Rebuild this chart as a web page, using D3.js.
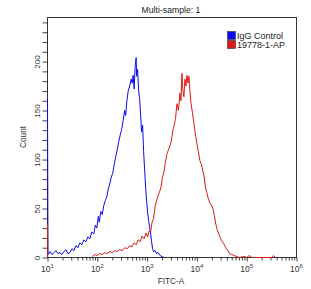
<!DOCTYPE html>
<html>
<head>
<meta charset="utf-8">
<script src="https://cdn.jsdelivr.net/npm/d3@7"></script>
<style>
  body { margin: 0; background: #fff; }
  svg { font-family: "Liberation Sans", Arial, sans-serif; }
  .tick text { fill: #333; }
</style>
</head>
<body>
<svg id="chart" width="311" height="289"></svg>
<script>
// series: [log10(FITC-A), count]
let igg = [
  [1.00, 162], [1.01, 3], [1.05, 6], [1.09, 3], [1.13, 5], [1.17, 7], [1.21, 4], [1.25, 5],
  [1.29, 3], [1.33, 6], [1.37, 8], [1.41, 4], [1.45, 5], [1.49, 9], [1.53, 7], [1.57, 12],
  [1.61, 10], [1.65, 15], [1.69, 13], [1.73, 18], [1.77, 16], [1.81, 21], [1.85, 19], [1.89, 26],
  [1.93, 24], [1.96, 33], [1.99, 30], [2.02, 42], [2.04, 36], [2.07, 47], [2.10, 44], [2.13, 53],
  [2.16, 58], [2.19, 62], [2.22, 70], [2.25, 75], [2.28, 82], [2.31, 86], [2.34, 95], [2.37, 103],
  [2.40, 110], [2.43, 118], [2.46, 125], [2.49, 131], [2.52, 140], [2.55, 150], [2.57, 145], [2.59, 158],
  [2.62, 170], [2.65, 175], [2.68, 182], [2.70, 178], [2.72, 186], [2.74, 172], [2.76, 195], [2.78, 204],
  [2.79, 185], [2.81, 192], [2.83, 170], [2.85, 162], [2.87, 145], [2.89, 128], [2.91, 135], [2.93, 108],
  [2.95, 90], [2.97, 72], [2.99, 58], [3.01, 46], [3.03, 38], [3.05, 31], [3.07, 25], [3.09, 16],
  [3.11, 9], [3.13, 6], [3.16, 7], [3.19, 4], [3.22, 5], [3.26, 2], [3.30, 1], [3.34, 0]
];
let ab = [
  [1.00, 34], [1.005, 0], [1.9, null], [1.90, 1], [1.95, 3], [2.00, 2], [2.05, 4], [2.10, 3],
  [2.15, 5], [2.20, 4], [2.25, 6], [2.30, 5], [2.35, 7], [2.40, 6], [2.45, 8], [2.50, 7],
  [2.55, 10], [2.60, 9], [2.65, 12], [2.70, 11], [2.74, 15], [2.78, 13], [2.82, 18], [2.86, 16],
  [2.90, 22], [2.94, 19], [2.98, 25], [3.01, 21], [3.04, 27], [3.07, 26], [3.10, 36], [3.13, 40],
  [3.16, 52], [3.19, 58], [3.22, 63], [3.25, 67], [3.28, 72], [3.31, 82], [3.34, 88], [3.37, 98],
  [3.40, 106], [3.43, 110], [3.46, 114], [3.49, 120], [3.52, 131], [3.55, 136], [3.57, 142], [3.60, 157],
  [3.63, 150], [3.66, 168], [3.68, 160], [3.70, 188], [3.72, 170], [3.74, 164], [3.76, 182], [3.78, 175],
  [3.80, 186], [3.82, 178], [3.84, 185], [3.86, 170], [3.88, 158], [3.91, 148], [3.94, 137], [3.97, 126],
  [4.00, 116], [4.03, 108], [4.06, 99], [4.09, 95], [4.12, 88], [4.14, 84], [4.17, 72], [4.20, 66],
  [4.23, 60], [4.26, 56], [4.29, 54], [4.32, 50], [4.35, 43], [4.38, 34], [4.41, 28], [4.44, 24],
  [4.47, 20], [4.50, 17], [4.54, 14], [4.58, 10], [4.62, 7], [4.66, 4], [4.70, 3], [4.75, 2],
  [4.80, 1], [4.85, 0], [4.95, 1], [5.00, 0], [5.05, 2], [5.10, 0], [5.50, 0], [5.54, 2], [5.58, 0]
];
let series = [
  {name: "IgG Control", color: "#0a0af0", values: igg},
  {name: "19778-1-AP", color: "#e01818", values: ab}
];
let decades = [1, 2, 3, 4, 5, 6],
  yMajor = [0, 50, 100, 150, 200];

let margins = {left: 47, right: 296, top: 17, bottom: 257};
let svg = d3.select("#chart");

let x = d3.scaleLog().domain([10, 1e6]).range([margins.left + 0.5, margins.right + 0.5]),
  y = d3.scaleLinear().domain([0, 245]).range([margins.bottom + 0.5, margins.top + 0.5]);

// axes
let minor = [];
decades.slice(0, -1).forEach(k => d3.range(2, 10).forEach(m => minor.push(m * Math.pow(10, k))));

let xg = svg.append("g").attr("transform", `translate(0, ${margins.bottom + 0.5})`);
xg.call(d3.axisBottom(x).tickValues(minor).tickSize(3).tickFormat(""));
xg.append("g").call(d3.axisBottom(x).tickValues(decades.map(k => Math.pow(10, k))).tickSize(4).tickFormat(""));
xg.selectAll(".domain").remove();
xg.selectAll("line").attr("stroke", "#444");

decades.forEach(k => {
  let t = xg.append("text")
    .attr("x", x(Math.pow(10, k)))
    .attr("y", 14)
    .attr("text-anchor", "middle")
    .attr("font-size", 8.5)
    .attr("fill", "#333");
  t.append("tspan").text("10");
  t.append("tspan").attr("dy", -4).attr("font-size", 6).text(k);
});

let yg = svg.append("g").attr("transform", `translate(${margins.left + 0.5}, 0)`);
yg.call(d3.axisLeft(y).tickValues(d3.range(0, 241, 10)).tickSize(5)
  .tickFormat(d => yMajor.includes(d) ? d : ""));
yg.select(".domain").remove();
yg.selectAll("line").attr("stroke", "#444");
yg.selectAll("text")
  .attr("transform", "rotate(-90)")
  .attr("x", 0).attr("y", -8).attr("dy", 0)
  .attr("text-anchor", "middle")
  .attr("font-size", 8);

// frame
svg.append("rect")
  .attr("x", margins.left + 0.5).attr("y", margins.top + 0.5)
  .attr("width", margins.right - margins.left).attr("height", margins.bottom - margins.top)
  .attr("fill", "none").attr("stroke", "#333");

// histograms
let line = d3.line()
  .defined(d => d[1] !== null)
  .x(d => x(Math.pow(10, d[0])))
  .y(d => y(d[1]));

svg.append("g").selectAll("path")
  .data(series).enter()
  .append("path")
  .attr("d", d => line(d.values))
  .attr("fill", "none")
  .attr("stroke", d => d.color)
  .attr("stroke-width", 1);

// titles
svg.append("text").text("Multi-sample: 1")
  .attr("x", 171).attr("y", 12.5).attr("text-anchor", "middle")
  .attr("font-size", 8.7).attr("fill", "#222");
svg.append("text").text("FITC-A")
  .attr("x", 171).attr("y", 284).attr("text-anchor", "middle")
  .attr("font-size", 8.3).attr("fill", "#333");
svg.append("text").text("Count")
  .attr("transform", `translate(26, ${(margins.top + margins.bottom) / 2}) rotate(-90)`)
  .attr("text-anchor", "middle")
  .attr("font-size", 8.3).attr("fill", "#333");

// legend
let lg = svg.append("g").attr("transform", "translate(227, 31)");
series.forEach((s, i) => {
  lg.append("rect")
    .attr("x", 0.5).attr("y", i * 9 + 0.5).attr("width", 8).attr("height", 8)
    .attr("fill", s.color).attr("stroke", "#333").attr("stroke-width", 0.6);
  lg.append("text").text(s.name)
    .attr("x", 10).attr("y", i * 9 + 7.5)
    .attr("font-size", 9).attr("fill", "#222");
});
</script>
</body>
</html>
